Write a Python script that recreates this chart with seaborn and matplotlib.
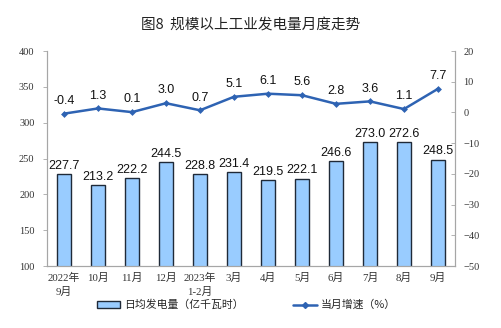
import matplotlib
matplotlib.use("Agg")
import matplotlib.pyplot as plt
import seaborn as sns
import pandas as pd
import numpy as np
from matplotlib.lines import Line2D
from matplotlib.patches import Patch

months = ["2022年\n9月", "10月", "11月", "12月", "2023年\n1-2月", "3月", "4月",
          "5月", "6月", "7月", "8月", "9月"]
daily_output = [227.7, 213.2, 222.2, 244.5, 228.8, 231.4, 219.5, 222.1, 246.6, 273.0, 272.6, 248.5]
growth = [-0.4, 1.3, 0.1, 3.0, 0.7, 5.1, 6.1, 5.6, 2.8, 3.6, 1.1, 7.7]

sns.set_style("white")
plt.rcParams['font.family'] = ['Liberation Sans', 'Noto Sans CJK SC', 'DejaVu Sans']

df = pd.DataFrame({"month": months, "output": daily_output, "growth": growth})

fig = plt.figure(figsize=(5.02, 3.28), dpi=100)
ax = fig.add_axes([0.0936, 0.189, 0.8128, 0.6555])

bar_color = "#99CCFF"
line_color = "#2E63B3"
gray = "#A6A6A6"

sns.barplot(data=df, x="month", y="output", ax=ax, color=bar_color,
            edgecolor="#1F2A38", linewidth=1.0, width=0.41, saturation=1)
ax.set_ylim(100, 400)
ax.set_xlim(-0.5, len(months) - 0.5)
ax.set_yticks(range(100, 401, 50))
ax.set_xlabel("")
ax.set_ylabel("")

tick_font = ['Liberation Serif', 'Noto Sans CJK SC', 'DejaVu Sans']
for lbl in ax.get_yticklabels():
    lbl.set_family(tick_font)
    lbl.set_fontsize(7.5)
ax.set_xticks(range(len(months)))
ax.set_xticklabels(months, fontsize=7.8, family=tick_font, linespacing=1.45)
ax.tick_params(axis="x", length=0, pad=5, colors="#333333")
ax.tick_params(axis="y", length=3, width=0.6, color=gray, pad=6, colors="#333333")
ax.set_xticks(np.arange(-0.5, len(months), 1.0), minor=True)
ax.tick_params(axis="x", which="minor", length=3, width=0.6, color="#D0D0D0", direction="in")

for i, v in enumerate(daily_output):
    ax.text(i, v + 3, f"{v:.1f}", ha="center", va="bottom", fontsize=9, color="#111111")

ax2 = ax.twinx()
sns.lineplot(x=np.arange(len(months)), y=growth, ax=ax2, color=line_color,
             linewidth=1.8, marker="D", markersize=3.5, markeredgewidth=0)
ax2.set_ylim(-50, 20)
ax2.set_yticks(range(-50, 21, 10))
for lbl in ax2.get_yticklabels():
    lbl.set_family(tick_font)
    lbl.set_fontsize(7.5)
ax2.tick_params(axis="y", length=3, width=0.6, color=gray, direction="in", pad=6, colors="#333333")
for i, v in enumerate(growth):
    ax2.text(i, v + 2.2, f"{v:.1f}", ha="center", va="bottom", fontsize=9, color="#111111")

for a in (ax, ax2):
    a.spines["top"].set_visible(False)
    for s in ("left", "right", "bottom"):
        a.spines[s].set_color(gray)
        a.spines[s].set_linewidth(0.8)
    a.grid(False)

fig.text(0.5, 0.925, "图8  规模以上工业发电量月度走势", ha="center", va="center",
         fontsize=10.5, family=['Noto Sans CJK SC', 'DejaVu Sans'], color="#222222")

handles = [Patch(facecolor=bar_color, edgecolor="#1F2A38", linewidth=1.0),
           Line2D([0], [0], color=line_color, linewidth=1.8, marker="D", markersize=3)]
fig.legend(handles, ["日均发电量（亿千瓦时）", "当月增速（%）"], loc="center",
           bbox_to_anchor=(0.49, 0.07), ncol=2, frameon=False,
           handlelength=2.2, handleheight=0.6, columnspacing=4.6, handletextpad=0.3,
           prop={'family': ['Noto Sans CJK SC', 'DejaVu Sans'], 'size': 7.8})

fig.savefig("out.png", dpi=100)
